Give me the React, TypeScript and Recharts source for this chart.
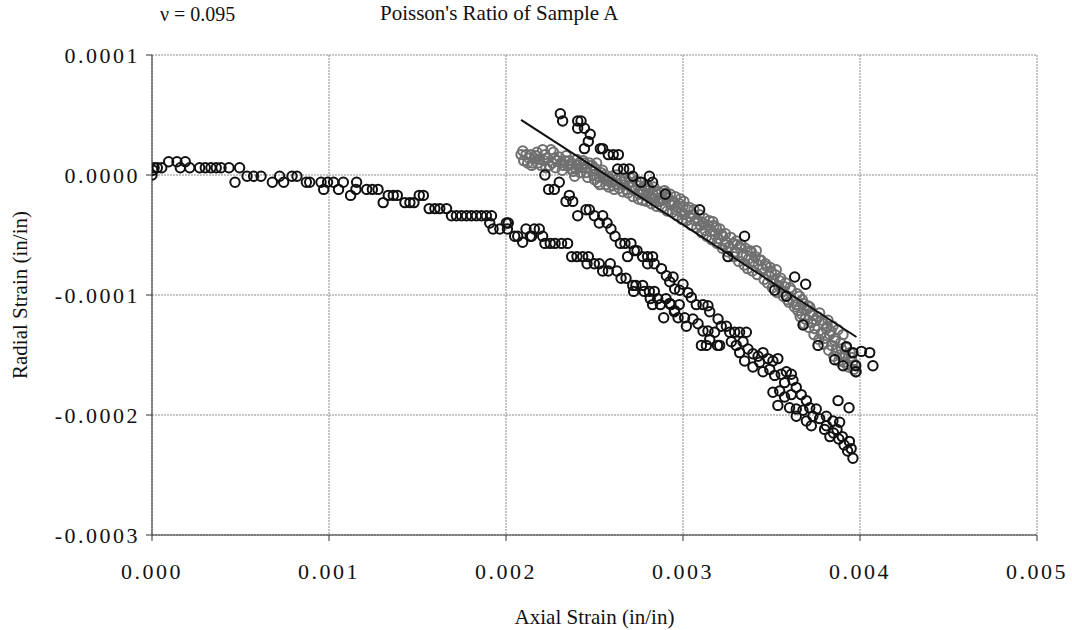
import React from 'react';
import { ScatterChart, Scatter, XAxis, YAxis, CartesianGrid, Label } from 'recharts';

// readings in microstrain: [axial, radial]
const loadingPts: number[][] = [
  [0, 0], [5, 4], [12, 6], [30, 6], [55, 6], [94, 11], [141, 11], [188, 11], [160, 6], [213, 6],
  [269, 6], [301, 6], [333, 6], [363, 6], [390, 6], [435, 6], [495, 6], [469, -6], [537, -1], [574, -1],
  [616, -1], [680, -6], [721, -1], [744, -6], [791, -1], [819, -1], [872, -6], [891, -6], [955, -6], [970, -12],
  [992, -6], [1026, -6], [1054, -12], [1081, -6], [1122, -17], [1156, -6], [1152, -12], [1213, -12], [1245, -12], [1277, -12],
  [1306, -23], [1335, -17], [1363, -17], [1386, -17], [1429, -23], [1457, -23], [1480, -23], [1510, -17], [1533, -17], [1566, -28],
  [1598, -28], [1626, -28], [1664, -28], [1692, -34], [1720, -34], [1749, -34], [1777, -34], [1805, -34], [1833, -34], [1861, -34],
  [1889, -34], [1918, -34], [1908, -40], [1927, -45], [1965, -45], [2002, -40], [2013, -40], [2008, -45], [2049, -51], [2066, -51],
  [2094, -56], [2113, -45], [2137, -51], [2145, -51], [2160, -45], [2188, -45], [2207, -51], [2220, -57], [2250, -57], [2277, -57],
  [2314, -57], [2348, -57], [2371, -68], [2401, -68], [2433, -68], [2465, -68], [2458, -74], [2499, -74], [2527, -74], [2546, -80],
  [2578, -80], [2589, -74], [2627, -80], [2650, -86], [2678, -86], [2716, -92], [2734, -92], [2772, -92], [2721, -97], [2781, -97],
  [2810, -97], [2838, -97], [2815, -103], [2857, -103], [2828, -108], [2872, -108], [2904, -103], [2932, -108], [2951, -114], [2979, -108],
  [2891, -119], [2925, -107], [2953, -113], [2972, -119], [3009, -119], [3019, -126], [3056, -120], [3085, -124], [3113, -130], [3141, -130],
  [3151, -137], [3104, -142], [3132, -142], [3195, -142], [3207, -142], [3179, -131], [3198, -120], [3216, -126], [3245, -126], [3264, -131],
  [3292, -131], [3320, -131], [3358, -131], [3273, -139], [3301, -142], [3339, -139], [3367, -145], [3320, -148], [3348, -155], [3395, -149],
  [3424, -151], [3452, -148], [3480, -153], [3508, -155], [3536, -153], [3433, -156], [3395, -160], [3452, -164], [3490, -162], [3518, -167],
  [3555, -166], [3584, -164], [3612, -166], [3574, -173], [3621, -171], [3508, -181], [3546, -180], [3574, -185], [3612, -183], [3640, -177],
  [3668, -183], [3697, -188], [3536, -192], [3602, -194], [3640, -195], [3678, -196], [3716, -194], [3753, -195], [3734, -201], [3772, -203],
  [3640, -201], [3697, -205], [3725, -209], [3810, -201], [3847, -205], [3885, -206], [3810, -209], [3876, -188], [3938, -194], [3800, -212],
  [3830, -218], [3850, -215], [3870, -212], [3880, -220], [3900, -218], [3910, -225], [3930, -230], [3940, -222], [3950, -228], [3960, -236],
];

const reloadPts: number[][] = [
  [2220, 0], [2241, -12], [2273, -12], [2301, -6], [2339, -22], [2358, -17], [2377, -22], [2405, -34], [2452, -29], [2471, -29],
  [2499, -34], [2527, -40], [2546, -34], [2571, -40], [2593, -45], [2616, -51], [2646, -57], [2672, -57], [2706, -57], [2725, -63],
  [2740, -63], [2687, -68], [2772, -68], [2800, -68], [2828, -68], [2800, -74], [2838, -74], [2878, -78], [2906, -84], [2944, -85],
  [2925, -89], [2953, -95], [3000, -91], [2981, -96], [3028, -98], [3047, -102], [3075, -108], [3113, -108], [3141, -109], [3151, -114],
];

const upperPts: number[][] = [
  [2307, 51], [2320, 45], [2405, 45], [2424, 45], [2405, 39], [2443, 39], [2476, 34], [2465, 28], [2443, 22], [2533, 22],
  [2546, 22], [2578, 17], [2606, 17], [2635, 17], [2631, 5], [2665, 5], [2697, 5], [2716, -1], [2763, -6], [2810, -1],
  [2828, -6], [2900, -16], [3094, -29], [3254, -68], [3348, -51], [3518, -96], [3584, -101], [3631, -85], [3693, -91], [3678, -125],
  [3763, -142], [3857, -154], [3904, -159], [3976, -164], [3976, -159], [3960, -148], [4008, -147], [4055, -148], [4073, -159], [3923, -143],
];

const bandPts: number[][] = [
  [2085, 17], [2100, 12], [2113, 17], [2122, 10], [2141, 17], [2151, 10], [2160, 14], [2169, 16], [2179, 10], [2190, 13],
  [2207, 21], [2216, 12], [2226, 6], [2235, 14], [2254, 21], [2262, 10], [2273, 14], [2290, 12], [2311, 10], [2325, 8],
  [2339, 16], [2350, 8], [2367, 5], [2380, 3], [2395, 5], [2405, 8], [2414, 10], [2430, 6], [2443, 10], [2455, 2],
  [2471, 10], [2480, 5], [2495, 0], [2508, 5], [2518, -6], [2528, -2], [2537, 2], [2555, -2], [2565, -8], [2574, -5],
  [2585, -3], [2593, -6], [2605, -9], [2621, -4], [2630, -8], [2640, -11], [2655, -6], [2669, -8], [2680, -12], [2697, -6],
  [2710, -10], [2725, -13], [2744, -9], [2752, -16], [2763, -12], [2775, -14], [2791, -16], [2800, -9], [2810, -11], [2818, -18],
  [2828, -15], [2840, -20], [2857, -16], [2866, -22], [2876, -19], [2887, -21], [2895, -13], [2904, -15], [2915, -19], [2923, -22],
  [2935, -25], [2944, -22], [2951, -23], [2960, -29], [2970, -27], [2980, -24], [2990, -31], [3000, -26], [3010, -33], [3028, -29],
  [3040, -35], [3056, -33], [3070, -38], [3085, -38], [3100, -42], [3113, -40], [3125, -46], [3141, -42], [3155, -47], [3169, -39],
  [3180, -50], [3188, -44], [3200, -53], [3215, -49], [3226, -51], [3236, -58], [3245, -56], [3260, -60], [3282, -57], [3295, -64],
  [3305, -58], [3320, -60], [3335, -67], [3358, -67], [3370, -70], [3386, -64], [3400, -72], [3414, -63], [3425, -75], [3433, -71],
  [3450, -78], [3471, -76], [3485, -84], [3499, -81], [3510, -88], [3527, -79], [3540, -92], [3546, -88], [3560, -97], [3574, -93],
  [3590, -104], [3612, -96], [3621, -105], [3640, -108], [3649, -113], [3659, -101], [3670, -116], [3678, -107], [3690, -120], [3700, -112],
  [3716, -110], [3725, -123], [3734, -117], [3745, -128], [3753, -121], [3772, -115], [3780, -132], [3791, -124], [3800, -136], [3810, -128],
  [3819, -121], [3829, -133], [3840, -142], [3847, -126], [3857, -138], [3866, -146], [3875, -129], [3885, -150], [3890, -140], [3904, -133],
  [3910, -156], [3923, -144], [3935, -160], [3951, -152], [3965, -162], [3979, -164],
  [2095, 20], [2130, 14], [2145, 8], [2175, 19], [2198, 8], [2220, 17], [2245, 8], [2268, 19], [2280, 6], [2300, 15],
  [2318, 4], [2332, 12], [2358, 12], [2372, 9], [2388, -1], [2400, 13], [2420, 2], [2436, 12], [2450, 6], [2462, -2],
  [2486, 8], [2500, -4], [2512, 10], [2530, -8], [2545, 4], [2560, 0], [2580, -10], [2598, -1], [2612, -12], [2625, 0],
  [2648, -4], [2660, -14], [2675, -3], [2690, -15], [2703, -2], [2718, -18], [2735, -5], [2748, -20], [2758, -6], [2770, -21],
  [2785, -9], [2795, -22], [2805, -13], [2822, -24], [2835, -10], [2850, -26], [2862, -14], [2882, -27], [2898, -18], [2910, -30],
  [2928, -16], [2940, -31], [2956, -18], [2965, -34], [2985, -20], [2995, -37], [3005, -22], [3020, -38], [3035, -27], [3048, -42],
  [3062, -29], [3078, -44], [3092, -33], [3106, -48], [3120, -36], [3134, -51], [3148, -38], [3162, -54], [3175, -42], [3193, -57],
  [3208, -45], [3222, -61], [3240, -49], [3252, -64], [3270, -52], [3288, -68], [3300, -55], [3315, -72], [3328, -58], [3345, -75],
  [3352, -61], [3365, -78], [3378, -63], [3392, -80], [3408, -68], [3420, -83], [3440, -71], [3458, -87], [3466, -74], [3478, -90],
  [3492, -77], [3505, -94], [3520, -83], [3533, -98], [3552, -86], [3566, -101], [3580, -90], [3598, -106], [3605, -94], [3630, -110],
  [3645, -99], [3662, -118], [3674, -104], [3685, -124], [3705, -109], [3712, -127], [3728, -114], [3740, -133], [3760, -118], [3768, -137],
  [3786, -121], [3795, -141], [3815, -126], [3823, -146], [3836, -130], [3852, -151], [3862, -136], [3880, -155], [3895, -145], [3918, -150],
  [3928, -158], [3945, -148], [3958, -156], [3972, -158],
];

const fitPts: number[][] = [[2085, 46], [3980, -135]];

const xTicks = [0, 0.001, 0.002, 0.003, 0.004, 0.005];
const yTicks = [0.0001, 0, -0.0001, -0.0002, -0.0003];

const toStrain = (pts: number[][]) => pts.map(([x, y]) => ({ x: x / 1e6, y: y / 1e6 }));

const serif = 'Liberation Serif, Times New Roman, serif';
const tickStyle = { fill: '#111', fontSize: 22, fontFamily: serif, letterSpacing: 2.5 };

const ring = (color: string) => (props: any) => (
  <circle cx={props.cx} cy={props.cy} r={4.7} fill="none" stroke={color} strokeWidth={2} />
);

export default function App() {
  return (
    <div style={{ position: 'absolute', left: 0, top: 0, width: 1072, height: 630, background: '#fff' }}>
      <div style={{ position: 'absolute', left: 160, top: 3, fontFamily: serif, fontSize: 20, color: '#111' }}>
        ν = 0.095
      </div>
      <div style={{ position: 'absolute', left: 380, top: 1, fontFamily: serif, fontSize: 21, color: '#111' }}>
        Poisson's Ratio of Sample A
      </div>
      <ScatterChart width={1072} height={630} margin={{ top: 55, right: 35, left: 0, bottom: 0 }}>
        <CartesianGrid stroke="#8a8a8a" strokeDasharray="2 1" />
        <XAxis
          type="number"
          dataKey="x"
          domain={[0, 0.005]}
          ticks={xTicks}
          tickFormatter={(v: number) => v.toFixed(3)}
          tick={tickStyle}
          tickSize={6}
          tickMargin={22}
          height={95}
          stroke="#333"
          allowDataOverflow
        >
          <Label value="Axial Strain (in/in)" position="insideBottom" offset={6}
            style={{ fill: '#111', fontSize: 21, fontFamily: serif }} />
        </XAxis>
        <YAxis
          type="number"
          dataKey="y"
          domain={[-0.0003, 0.0001]}
          ticks={yTicks}
          tickFormatter={(v: number) => v.toFixed(4)}
          tick={tickStyle}
          tickSize={6}
          tickMargin={6}
          width={152}
          stroke="#333"
          allowDataOverflow
        >
          <Label value="Radial Strain (in/in)" angle={-90} position="insideLeft" offset={20}
            style={{ fill: '#111', fontSize: 21, fontFamily: serif, textAnchor: 'middle' }} />
        </YAxis>
        <Scatter data={toStrain(bandPts)} shape={ring('#707070')} isAnimationActive={false} />
        <Scatter data={toStrain(loadingPts)} shape={ring('#111')} isAnimationActive={false} />
        <Scatter data={toStrain(reloadPts)} shape={ring('#111')} isAnimationActive={false} />
        <Scatter data={toStrain(upperPts)} shape={ring('#111')} isAnimationActive={false} />
        <Scatter
          data={toStrain(fitPts)}
          line={{ stroke: '#111', strokeWidth: 2 }}
          shape={() => <g />}
          isAnimationActive={false}
        />
      </ScatterChart>
    </div>
  );
}
